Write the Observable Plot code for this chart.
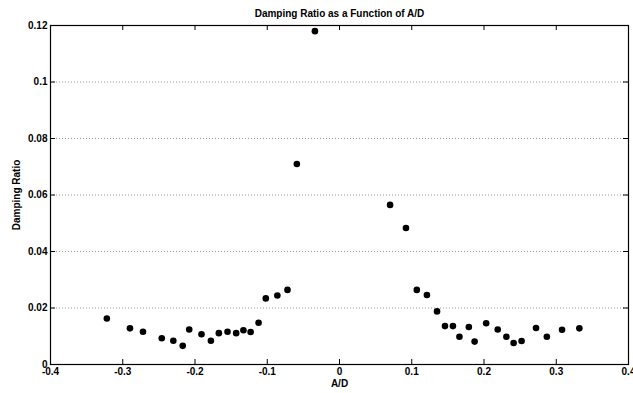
<!DOCTYPE html>
<html>
<head>
<meta charset="utf-8">
<script src="https://cdn.jsdelivr.net/npm/d3@7"></script>
<script src="https://cdn.jsdelivr.net/npm/@observablehq/plot@0.6"></script>
<style>
  html, body { margin: 0; padding: 0; background: #fff; }
  svg { display: block; }
</style>
</head>
<body>
<div id="chart"></div>
<script>
const adRatio = [
  -0.322, -0.290, -0.272, -0.246, -0.230, -0.217, -0.208, -0.191, -0.178, -0.167,
  -0.155, -0.143, -0.133, -0.123, -0.112, -0.102, -0.086, -0.072, -0.059, -0.034,
  0.070, 0.092, 0.107, 0.121, 0.135, 0.146, 0.157, 0.166, 0.179, 0.187,
  0.203, 0.219, 0.231, 0.241, 0.252, 0.272, 0.287, 0.308, 0.332
];
const dampingRatio = [
  0.0163, 0.0128, 0.0116, 0.0093, 0.0084, 0.0066, 0.0124, 0.0107, 0.0084, 0.0111,
  0.0116, 0.0111, 0.0121, 0.0115, 0.0148, 0.0234, 0.0244, 0.0264, 0.0710, 0.1180,
  0.0565, 0.0483, 0.0264, 0.0246, 0.0188, 0.0136, 0.0136, 0.0098, 0.0133, 0.0081,
  0.0146, 0.0124, 0.0098, 0.0076, 0.0083, 0.0129, 0.0098, 0.0123, 0.0128
];
const xTicks = [-0.4, -0.3, -0.2, -0.1, 0, 0.1, 0.2, 0.3, 0.4];
const xTickLabels = ["-0.4", "-0.3", "-0.2", "-0.1", "0", "0.1", "0.2", "0.3", "0.4"];
const yTicks = [0, 0.02, 0.04, 0.06, 0.08, 0.1, 0.12];
const yTickLabels = ["0", "0.02", "0.04", "0.06", "0.08", "0.1", "0.12"];
const yGrid = [0.02, 0.04, 0.06, 0.08, 0.1];
const titleText = "Damping Ratio as a Function of A/D";
const xLabel = "A/D";
const yLabel = "Damping Ratio";

const W = 633, H = 393, mL = 50, mR = 5, mT = 25, mB = 29;
const frameW = W - mL - mR, frameH = H - mT - mB, tick = 5;

const data = adRatio.map((x, i) => ({x, y: dampingRatio[i]}));
const xFmt = d => xTickLabels[xTicks.findIndex(t => Math.abs(t - d) < 1e-9)];
const yFmt = d => yTickLabels[yTicks.findIndex(t => Math.abs(t - d) < 1e-9)];
const font = {fontFamily: "'Liberation Sans', Arial, sans-serif", fontWeight: "bold", fontSize: 10};

const chart = Plot.plot({
  width: W,
  height: H,
  marginLeft: mL,
  marginRight: mR,
  marginTop: mT,
  marginBottom: mB,
  style: {fontFamily: font.fontFamily, fontSize: "10px", fontWeight: "bold", color: "#000", background: "#fff"},
  x: {domain: [-0.4, 0.4], axis: null},
  y: {domain: [0, 0.12], axis: null},
  marks: [
    Plot.gridY(yGrid, {stroke: "#444", strokeOpacity: 0.7, strokeDasharray: "1,2", strokeWidth: 0.8}),
    Plot.axisX(xTicks, {anchor: "bottom", tickSize: 0, tickPadding: 3, tickFormat: xFmt, label: null, fill: "#000", fontWeight: "bold"}),
    Plot.axisY(yTicks, {anchor: "left", tickSize: 0, tickPadding: 3, tickFormat: yFmt, label: null, fill: "#000", fontWeight: "bold"}),
    Plot.tickX(xTicks, {x: d => d, insetTop: frameH - tick, stroke: "#000", strokeWidth: 1}),
    Plot.tickX(xTicks, {x: d => d, insetBottom: frameH - tick, stroke: "#000", strokeWidth: 1}),
    Plot.tickY(yTicks, {y: d => d, insetRight: frameW - tick, stroke: "#000", strokeWidth: 1}),
    Plot.tickY(yTicks, {y: d => d, insetLeft: frameW - tick, stroke: "#000", strokeWidth: 1}),
    Plot.frame({stroke: "#000", strokeWidth: 1.2}),
    Plot.dot(data, {x: "x", y: "y", r: 3.3, fill: "#000", stroke: "none"}),
    Plot.text([titleText], {frameAnchor: "top", dy: -12, lineAnchor: "middle", ...font}),
    Plot.text([xLabel], {frameAnchor: "bottom", dy: 19, lineAnchor: "middle", ...font}),
    Plot.text([yLabel], {frameAnchor: "left", dx: -34, rotate: -90, lineAnchor: "middle", textAnchor: "middle", ...font})
  ]
});
document.getElementById("chart").appendChild(chart);
</script>
</body>
</html>
